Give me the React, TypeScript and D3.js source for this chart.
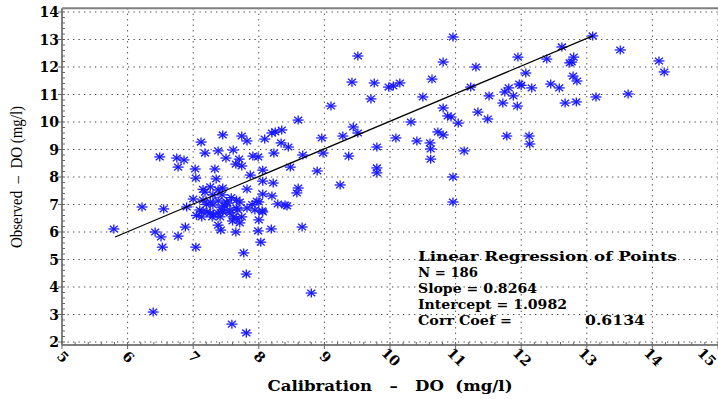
import React from 'react';
import * as d3 from 'd3';

// calibration DO (x) vs observed DO (y)
const calDO = [
  6.39, 7.59, 7.81, 8.80, 7.81, 7.77, 8.03, 7.99, 7.65, 8.19, 8.66, 5.79, 6.42, 6.51, 6.53, 6.77,
  6.88, 7.04, 7.38, 7.42, 6.22, 6.55, 6.90, 8.29, 8.43, 8.05, 8.00, 7.71, 7.66, 7.13, 7.13, 7.26,
  7.38, 7.45, 7.56, 7.68, 7.44, 7.30, 7.52, 7.71, 8.00, 6.49, 6.75, 6.86, 6.77, 7.03, 7.04, 7.12,
  7.18, 7.33, 7.35, 7.38, 7.45, 7.50, 7.61, 7.65, 7.70, 7.74, 7.74, 7.82, 7.91, 7.99, 8.09, 8.20,
  8.25, 8.35, 8.23, 8.34, 8.06, 7.87, 7.82, 8.06, 8.22, 8.06, 8.20, 7.97, 7.94, 8.06, 7.26, 7.38,
  7.45, 7.44, 7.18, 7.15, 7.00, 7.26, 7.38, 7.51, 7.66, 7.82, 7.66, 7.56, 7.44, 7.31, 7.21, 7.10,
  7.29, 7.41, 7.61, 7.74, 10.96, 9.51, 10.81, 11.31, 9.42, 9.76, 9.98, 10.05, 10.15, 10.64, 11.23,
  9.71, 10.50, 9.10, 10.81, 11.34, 8.60, 10.88, 10.93, 11.04, 10.32, 9.44, 9.51, 9.28, 8.96, 10.09,
  10.73, 10.81, 10.41, 10.61, 10.62, 10.62, 8.45, 8.67, 8.98, 9.37, 9.80, 11.13, 8.48, 8.89, 9.80,
  9.80, 9.24, 8.60, 8.58, 10.96, 10.96, 13.09, 12.62, 13.51, 11.95, 12.39, 12.80, 12.77, 12.74,
  14.10, 14.18, 12.07, 11.97, 12.00, 11.81, 11.75, 12.16, 12.45, 12.58, 12.79, 12.85, 11.51, 11.88,
  11.72, 11.94, 12.67, 12.84, 13.14, 13.63, 11.49, 11.78, 12.12, 12.13, 7.20, 7.48, 7.58, 7.30,
  7.90, 7.05, 7.60, 7.15, 8.40,
];
const obsDO = [
  3.09, 2.65, 2.33, 3.78, 4.47, 5.24, 5.63, 6.04, 6.00, 6.11, 6.18, 6.11, 6.00, 5.82, 5.45, 5.85,
  6.18, 5.45, 6.25, 6.07, 6.91, 6.84, 6.91, 7.02, 6.95, 6.77, 6.44, 6.33, 6.50, 6.73, 6.55, 6.69,
  6.69, 6.73, 6.69, 6.80, 6.91, 6.98, 7.05, 7.09, 7.09, 8.73, 8.69, 8.62, 8.36, 8.29, 7.96, 9.27,
  8.87, 8.29, 7.93, 8.95, 9.53, 8.69, 8.98, 8.47, 8.65, 9.49, 8.40, 9.31, 8.76, 8.73, 9.38, 9.60,
  9.64, 9.71, 8.87, 9.24, 8.25, 8.07, 7.56, 7.85, 7.78, 7.38, 7.31, 7.12, 6.80, 6.73, 7.64, 7.53,
  7.60, 7.35, 7.45, 7.16, 7.20, 7.09, 7.13, 7.09, 7.16, 6.87, 6.87, 6.80, 6.80, 6.62, 6.73, 6.80,
  6.55, 6.55, 6.55, 6.55, 13.09, 12.40, 12.18, 12.00, 11.45, 11.42, 11.27, 11.31, 11.42, 11.56, 11.27,
  10.84, 10.91, 10.58, 10.51, 10.36, 10.07, 10.22, 10.18, 9.96, 10.00, 9.82, 9.60, 9.49, 9.42, 9.42,
  9.64, 9.53, 9.31, 9.24, 9.02, 8.65, 9.09, 8.80, 8.87, 8.76, 9.09, 8.95, 8.36, 8.22, 8.33,
  8.15, 7.71, 7.60, 7.42, 8.00, 7.09, 13.13, 12.73, 12.62, 12.36, 12.29, 12.36, 12.18, 12.15,
  12.22, 11.82, 11.78, 11.38, 11.33, 11.24, 11.09, 11.24, 11.38, 11.24, 11.67, 11.49, 10.95, 10.95,
  10.69, 10.58, 10.69, 10.73, 10.91, 11.02, 10.11, 9.49, 9.49, 9.20, 7.00, 6.95, 7.25, 7.35,
  7.00, 6.60, 6.40, 7.55, 6.98,
];

// fitted line as drawn on the chart (end points)
const fitX = [5.81, 13.09];
const fitY = [5.82, 13.13];

const xTicks = [5, 6, 7, 8, 9, 10, 11, 12, 13, 14, 15];
const yTicks = [2, 3, 4, 5, 6, 7, 8, 9, 10, 11, 12, 13, 14];

const statLines = [
  { text: 'Linear Regression of Points', len: 259 },
  { text: 'N = 186', len: 60 },
  { text: 'Slope = 0.8264', len: 119 },
  { text: 'Intercept = 1.0982', len: 149 },
  { text: 'Corr  Coef =', len: 94 },
];
const corrValue = '0.6134';

const W = 718;
const H = 399;
const serif = '"DejaVu Serif", serif';

const x = d3.scaleLinear().domain([5, 15]).range([62, 718]);
const y = d3.scaleLinear().domain([2, 14]).range([342, 12]);

const Star = ({ cx, cy }: { cx: number; cy: number }) => (
  <g stroke="#1a1aff" strokeWidth={1.3}>
    <line x1={cx - 5.5} y1={cy} x2={cx + 5.5} y2={cy} />
    <line x1={cx} y1={cy - 4.5} x2={cx} y2={cy + 4.5} />
    <line x1={cx - 4} y1={cy - 3.3} x2={cx + 4} y2={cy + 3.3} />
    <line x1={cx - 4} y1={cy + 3.3} x2={cx + 4} y2={cy - 3.3} />
  </g>
);

const App = () => {
  const frameTop = y(14.14);
  const frameBottom = y(1.89);
  const minorX = d3.range(5, 15.001, 0.2);
  const minorY = d3.range(2, 14.001, 0.2);
  const line = d3.line<number>().x((d, i) => x(fitX[i])).y((d, i) => y(fitY[i]));

  return (
    <svg width={W} height={H} style={{ position: 'absolute', left: 0, top: 0, background: '#fff' }}>
      {/* grid */}
      <g stroke="#444" strokeWidth={1} strokeDasharray="1.3,4.2">
        {xTicks.slice(1).map((t) => (
          <line key={'gx' + t} x1={x(t)} x2={x(t)} y1={frameTop} y2={frameBottom} />
        ))}
        {yTicks.map((t) => (
          <line key={'gy' + t} x1={x(5)} x2={W} y1={y(t)} y2={y(t)} />
        ))}
      </g>

      {/* frame */}
      <g stroke="#808080" strokeWidth={2} fill="none">
        <line x1={x(5)} x2={W} y1={frameTop} y2={frameTop} />
        <line x1={x(5)} x2={W} y1={frameBottom} y2={frameBottom} />
        <line x1={x(5)} x2={x(5)} y1={frameTop} y2={frameBottom} />
      </g>
      <g stroke="#666" strokeWidth={1}>
        {minorX.map((t) => (
          <line key={'mx' + t} x1={x(t)} x2={x(t)} y1={frameBottom} y2={frameBottom - 3} />
        ))}
        {xTicks.map((t) => (
          <line key={'tx' + t} x1={x(t)} x2={x(t)} y1={frameBottom} y2={frameBottom + 4} />
        ))}
        {minorY.map((t) => (
          <line key={'my' + t} x1={x(5)} x2={x(5) + 3} y1={y(t)} y2={y(t)} />
        ))}
        {yTicks.map((t) => (
          <line key={'ty' + t} x1={x(5) - 4} x2={x(5)} y1={y(t)} y2={y(t)} />
        ))}
      </g>

      {/* tick labels */}
      <g fontFamily={serif} fontWeight="bold" fontSize={14} fill="#000">
        {yTicks.map((t) => (
          <text key={'ly' + t} x={x(5) - 3} y={y(t)} textAnchor="end" dominantBaseline="central">
            {t}
          </text>
        ))}
        {xTicks.map((t) => (
          <text
            key={'lx' + t}
            x={0}
            y={0}
            textAnchor="middle"
            dominantBaseline="central"
            transform={`translate(${Math.min(x(t) + 1, W - 11)},${357}) rotate(45)`}
          >
            {t}
          </text>
        ))}
      </g>

      {/* points */}
      {calDO.map((v, i) => (
        <Star key={'p' + i} cx={x(v)} cy={y(obsDO[i])} />
      ))}

      {/* fitted line */}
      <path d={line(fitX) || ''} stroke="#000" strokeWidth={1.2} fill="none" />

      {/* stats */}
      <g fontFamily={serif} fontWeight="bold" fontSize={12.5} fill="#000">
        {statLines.map((s, i) => (
          <text key={'s' + i} x={418} y={261 + i * 16} textLength={s.len} lengthAdjust="spacingAndGlyphs">
            {s.text}
          </text>
        ))}
        <text x={585} y={261 + 4 * 16} textLength={60} lengthAdjust="spacingAndGlyphs">
          {corrValue}
        </text>
      </g>

      {/* axis titles */}
      <text
        x={390}
        y={391}
        textAnchor="middle"
        fontFamily={serif}
        fontWeight="bold"
        fontSize={14}
        textLength={245}
        lengthAdjust="spacingAndGlyphs"
        style={{ whiteSpace: 'pre' }}
      >
        {'Calibration   –   DO  (mg/l)'}
      </text>
      <text
        transform="translate(22,177) rotate(-90)"
        textAnchor="middle"
        fontFamily={'"Liberation Serif", serif'}
        fontSize={17}
        textLength={142}
        lengthAdjust="spacingAndGlyphs"
        style={{ whiteSpace: 'pre' }}
      >
        {'Observed  –  DO (mg/l)'}
      </text>
    </svg>
  );
};

export default App;
